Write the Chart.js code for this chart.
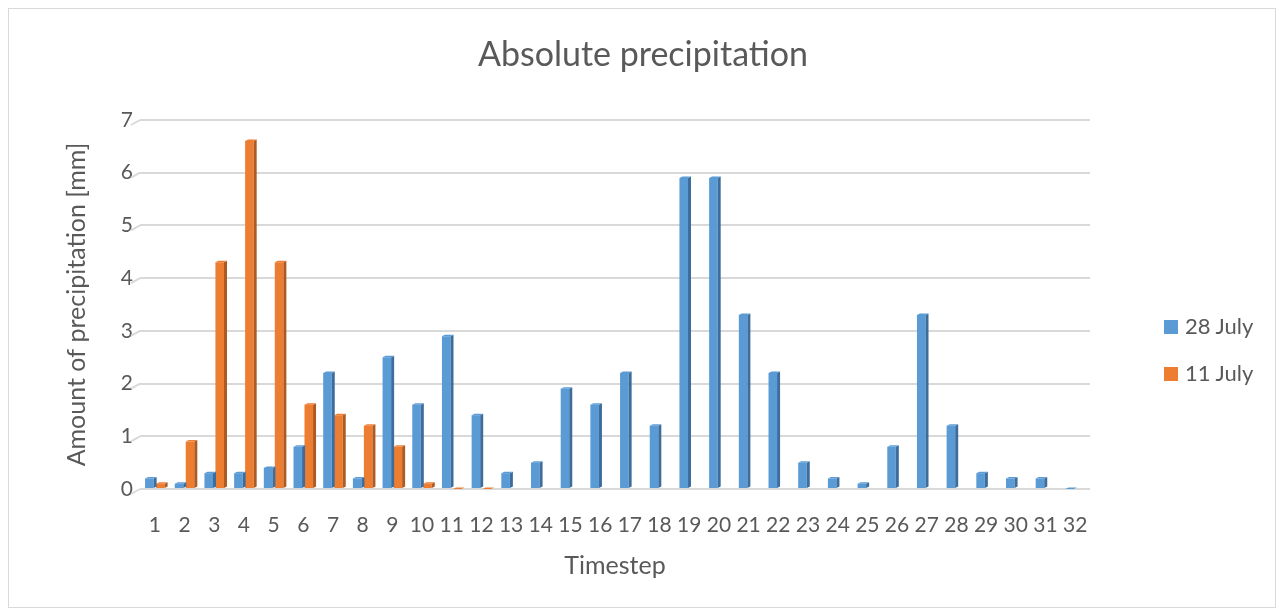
<!DOCTYPE html>
<html>
<head>
<meta charset="utf-8">
<script src="https://cdn.jsdelivr.net/npm/chart.js@4.4.0/dist/chart.umd.min.js"></script>
<style>
  body { margin: 0; background: #fff; }
  #wrap { position: relative; width: 1282px; height: 615px; }
  #frame { position: absolute; left: 8px; top: 8px; width: 1266px; height: 598px; border: 1px solid #d9d9d9; pointer-events: none; }
  #title { position: absolute; left: 0; top: 32px; width: 1286px; text-align: center; font-family: Lato, "Open Sans", sans-serif; font-size: 34px; line-height: 42px; color: #595959; }
  #legend { position: absolute; left: 1164px; top: 312px; font-family: Lato, "Open Sans", sans-serif; font-size: 22px; line-height: 28px; color: #595959; }
  #legend div { height: 47px; display: flex; align-items: flex-start; }
  #legend span.box { display: inline-block; width: 14px; height: 14px; margin: 8px 7px 0 0; }
</style>
</head>
<body>
<div id="wrap">
  <canvas id="precipChart" width="1282" height="615"></canvas>
  <div id="frame"></div>
  <div id="title">Absolute precipitation</div>
  <div id="legend"></div>
</div>
<script>
// timesteps
var timesteps = ["1","2","3","4","5","6","7","8","9","10","11","12","13","14","15","16",
  "17","18","19","20","21","22","23","24","25","26","27","28","29","30","31","32"];
// precipitation [mm]
var july28 = [0.2, 0.1, 0.3, 0.3, 0.4, 0.8, 2.2, 0.2, 2.5, 1.6, 2.9, 1.4, 0.3, 0.5, 1.9, 1.6,
  2.2, 1.2, 5.9, 5.9, 3.3, 2.2, 0.5, 0.2, 0.1, 0.8, 3.3, 1.2, 0.3, 0.2, 0.2, 0];
var july11 = [0.1, 0.9, 4.3, 6.6, 4.3, 1.6, 1.4, 1.2, 0.8, 0.1, 0, 0, null, null, null, null,
  null, null, null, null, null, null, null, null, null, null, null, null, null, null, null, null];
var seriesNames = ["28 July", "11 July"];
var yTicks = [0, 1, 2, 3, 4, 5, 6, 7];

var faceColors = ["#5b9bd5", "#ed7d31"];
var sideColors = ["#3c6d9c", "#ae5a21"];
var textColor = "#595959";
var gridColor = "#d9d9d9";
var fontFamily = "Lato, 'Open Sans', sans-serif";

// fake 3d: darker side and top on each bar, slanted start of gridlines
var bar3d = {
  id: 'bar3d',
  beforeDatasetsDraw: function(chart) {
    var ctx = chart.ctx;
    var yScale = chart.scales.y;
    var left = chart.chartArea.left;
    ctx.save();
    ctx.strokeStyle = gridColor;
    ctx.lineWidth = 2;
    yScale.ticks.forEach(function(t) {
      var y = yScale.getPixelForValue(t.value);
      ctx.beginPath();
      ctx.moveTo(left - 9, y + 5);
      ctx.lineTo(left, y);
      ctx.stroke();
    });
    ctx.restore();
  },
  afterDatasetsDraw: function(chart) {
    var ctx = chart.ctx;
    var d = 3;
    chart.data.datasets.forEach(function(ds, i) {
      var meta = chart.getDatasetMeta(i);
      meta.data.forEach(function(bar, j) {
        if (ds.data[j] === null) return;
        var half = bar.width / 2;
        var x0 = bar.x - half, x1 = bar.x + half;
        var top = bar.y, base = bar.base;
        ctx.save();
        ctx.fillStyle = sideColors[i];
        ctx.beginPath();
        ctx.moveTo(x1, top);
        ctx.lineTo(x1 + d, top - d / 2);
        ctx.lineTo(x1 + d, base - d / 2);
        ctx.lineTo(x1, base);
        ctx.closePath();
        ctx.fill();
        ctx.fillStyle = faceColors[i];
        ctx.beginPath();
        ctx.moveTo(x0, top);
        ctx.lineTo(x0 + d, top - d / 2);
        ctx.lineTo(x1 + d, top - d / 2);
        ctx.lineTo(x1, top);
        ctx.closePath();
        ctx.fill();
        ctx.restore();
      });
    });
  }
};

var ctx = document.getElementById("precipChart").getContext('2d');
var chart = new Chart(ctx, {
  type: 'bar',
  data: {
    labels: timesteps,
    datasets: [{
      label: seriesNames[0],
      data: july28,
      backgroundColor: faceColors[0],
      barPercentage: 0.78,
      categoryPercentage: 0.74
    }, {
      label: seriesNames[1],
      data: july11,
      backgroundColor: faceColors[1],
      barPercentage: 0.78,
      categoryPercentage: 0.74
    }]
  },
  options: {
    responsive: false,
    animation: false,
    layout: {
      padding: { left: 62, right: 192, top: 120, bottom: 30 }
    },
    plugins: {
      legend: { display: false },
      tooltip: { enabled: false }
    },
    scales: {
      x: {
        grid: { display: false },
        border: { display: false },
        afterFit: function(axis) { axis.height = 96; },
        ticks: {
          color: textColor,
          font: { family: fontFamily, size: 21 },
          maxRotation: 0,
          autoSkip: false,
          padding: 16
        },
        title: {
          display: true,
          text: "Timestep",
          color: textColor,
          font: { family: fontFamily, size: 25 },
          padding: { top: 4, bottom: 4 }
        }
      },
      y: {
        min: 0,
        max: 7,
        afterBuildTicks: function(axis) {
          axis.ticks = yTicks.map(function(v) { return { value: v }; });
        },
        afterFit: function(axis) { axis.width = 78; },
        grid: { color: gridColor, lineWidth: 2, drawTicks: false },
        border: { display: false },
        ticks: {
          color: textColor,
          font: { family: fontFamily, size: 21 },
          padding: 7
        },
        title: {
          display: true,
          text: "Amount of precipitation [mm]",
          color: textColor,
          font: { family: fontFamily, size: 25 },
          padding: { top: 0, bottom: 4 }
        }
      }
    }
  },
  plugins: [bar3d]
});

// legend
var legendEl = document.getElementById("legend");
seriesNames.forEach(function(name, i) {
  var row = document.createElement("div");
  var box = document.createElement("span");
  box.className = "box";
  box.style.background = faceColors[i];
  row.appendChild(box);
  row.appendChild(document.createTextNode(name));
  legendEl.appendChild(row);
});
</script>
</body>
</html>
